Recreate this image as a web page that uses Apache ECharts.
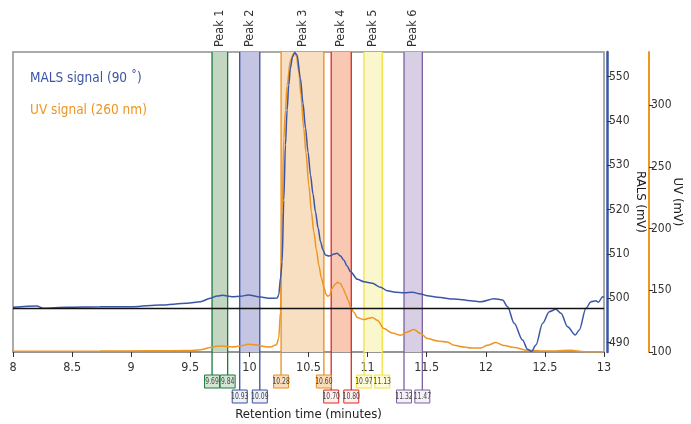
<!DOCTYPE html>
<html><head><meta charset="utf-8">
<script src="https://cdn.jsdelivr.net/npm/echarts@6/dist/echarts.min.js"></script>
<style>html,body{margin:0;padding:0;background:#fff}#c{width:691px;height:424px}</style>
</head><body><div id="c"></div>
<script>
const FONT = "'Liberation Sans Narrow','DejaVu Sans Condensed',sans-serif";

// Retention time (minutes) and MALS (RALS, mV) signal
const malsTime = [8.000,8.201,8.257,8.455,8.737,9.017,9.246,9.472,9.585,9.669,9.726,9.771,9.856,9.924,9.992,10.093,10.178,10.235,10.248,10.263,10.277,10.291,10.305,10.319,10.333,10.347,10.364,10.384,10.403,10.432,10.453,10.475,10.496,10.517,10.538,10.559,10.581,10.602,10.623,10.644,10.672,10.691,10.714,10.743,10.771,10.799,10.826,10.856,10.913,10.969,11.040,11.110,11.167,11.237,11.308,11.379,11.449,11.506,11.591,11.731,11.873,11.958,12.070,12.142,12.184,12.240,12.311,12.353,12.387,12.424,12.481,12.537,12.593,12.636,12.692,12.757,12.791,12.847,12.890,12.932,12.952,12.989,13.000];
const malsValue = [497.97,498.27,497.75,497.97,498.09,498.11,498.49,498.87,499.23,500.00,500.52,500.68,500.36,500.47,500.74,500.29,500.00,500.07,500.74,504.57,508.18,522.14,534.53,542.41,548.04,551.87,554.35,555.41,554.80,549.55,543.99,538.36,532.95,527.77,523.49,519.50,515.83,512.75,510.88,509.75,509.53,509.64,509.98,510.14,509.53,508.63,507.27,505.99,504.28,503.74,503.38,502.48,501.71,501.35,501.26,501.35,500.97,500.59,500.23,499.84,499.46,499.23,499.91,499.62,498.11,494.37,490.61,488.51,488.00,489.48,494.37,496.98,497.52,496.62,493.60,491.73,492.86,497.75,499.23,499.46,499.10,500.36,500.23];

// Retention time (minutes) and UV (mV) signal
const uvTime = [8.000,8.737,9.161,9.489,9.585,9.669,9.720,9.771,9.856,9.924,9.992,10.051,10.110,10.178,10.229,10.248,10.263,10.277,10.291,10.305,10.319,10.347,10.375,10.386,10.398,10.418,10.436,10.460,10.479,10.503,10.525,10.545,10.568,10.587,10.610,10.630,10.648,10.664,10.678,10.701,10.720,10.746,10.771,10.792,10.814,10.835,10.856,10.884,10.913,10.969,11.008,11.040,11.082,11.138,11.209,11.280,11.336,11.392,11.449,11.506,11.591,11.675,11.731,11.816,11.873,11.958,12.014,12.085,12.155,12.240,12.353,12.523,12.720,12.833,13.000];
const uvValue = [100.57,100.73,100.97,101.22,101.78,103.57,104.62,104.78,104.05,104.86,106.24,105.83,104.62,104.05,105.83,111.10,132.41,213.45,273.18,295.87,316.13,336.39,341.82,342.22,339.63,326.90,308.02,281.04,261.02,235.09,213.21,197.24,182.41,170.26,159.72,152.67,146.76,145.14,145.95,151.62,154.46,156.48,155.43,151.62,146.76,141.90,136.47,132.17,127.88,126.26,127.31,127.88,125.69,118.96,115.40,113.53,116.21,118.15,114.91,110.86,108.91,108.10,105.43,104.05,103.24,103.24,105.43,107.62,105.19,103.57,101.38,100.81,101.38,100.16,100.16];

const xTicks = [8,8.5,9,9.5,10,10.5,11,11.5,12,12.5,13];
const ralsTicks = [490,500,510,520,530,540,550];
const uvTicks = [100,150,200,250,300];
const baselineRALS = 497.75;

const peakNames = ['Peak 1','Peak 2','Peak 3','Peak 4','Peak 5','Peak 6'];
const peakStart = [9.684,9.918,10.268,10.692,10.969,11.308];
const peakEnd   = [9.816,10.088,10.630,10.862,11.124,11.463];
const peakStartLabels = ['9.69','10.93','10.28','10.70','10.97','11.32'];
const peakEndLabels   = ['9.84','10.09','10.60','10.80','11.13','11.47'];
const peakFill = ['#c3d6c2','#c3c5e3','#f8dfc2','#f9c8b3','#fbf7cc','#d8cfe4'];
const peakBox  = ['#d6e6d5','#eef0fa','#f9dcbc','#fdf0ee','#fdfbd9','#f4f0f8'];
const peakEdge = ['#1b7a3c','#3c4fa3','#ea8e1c','#e8231f','#f1e23e','#7c60a2'];

const BLUE = '#3b56a6', ORANGE = '#ee9522';

const chart = echarts.init(document.getElementById('c'), null, {renderer:'canvas'});
chart.setOption({
  animation:false,
  backgroundColor:'#fff',
  grid:{left:13,right:87,top:52,bottom:72,show:true,borderColor:'#8f8f8f',borderWidth:1.5,backgroundColor:'transparent',
    outerBoundsMode:'none',containLabel:false},
  xAxis:{type:'value',min:8,max:13,interval:0.5,
    axisLine:{lineStyle:{color:'#8f8f8f',width:1.5}},
    axisTick:{show:true,length:5,inside:false,lineStyle:{color:'#333',width:1}},
    axisLabel:{color:'#333',fontSize:12.5,fontFamily:FONT,margin:9,formatter:v=>String(v)},
    splitLine:{show:false},
    name:'Retention time (minutes)',nameLocation:'middle',nameGap:56,nameMoveOverlap:false,
    nameTextStyle:{color:'#222',fontSize:13,fontFamily:FONT}},
  yAxis:[
    {type:'value',position:'right',offset:3,min:487.9,max:555.5,
      axisLine:{show:true,lineStyle:{color:BLUE,width:2.5}},
      axisTick:{show:true,length:4,customValues:ralsTicks,lineStyle:{color:'#333'}},
      axisLabel:{show:true,customValues:ralsTicks,color:'#333',fontSize:12,fontFamily:FONT,margin:2},
      splitLine:{show:false},
      name:'RALS (mV)',nameLocation:'middle',nameRotate:-90,nameGap:27,nameMoveOverlap:false,
      nameTextStyle:{color:'#222',fontSize:13,fontFamily:FONT}},
    {type:'value',position:'right',offset:45,min:100,max:343,interval:50,
      axisLine:{show:true,lineStyle:{color:ORANGE,width:2}},
      axisTick:{show:true,length:4,customValues:uvTicks,lineStyle:{color:'#333'}},
      axisLabel:{show:true,customValues:uvTicks,color:'#333',fontSize:12,fontFamily:FONT,margin:2},
      splitLine:{show:false},
      name:'UV (mV)',nameLocation:'middle',nameRotate:-90,nameGap:22,nameMoveOverlap:false,
      nameTextStyle:{color:'#222',fontSize:13,fontFamily:FONT}}
  ],
  series:[
    {type:'line',name:'bands',data:[],z:1,silent:true,
      markArea:{silent:true,data:peakStart.map((s,i)=>[{xAxis:s,itemStyle:{color:peakFill[i],opacity:1}},{xAxis:peakEnd[i]}])}},
    {type:'line',name:'UV',yAxisIndex:1,z:3,showSymbol:false,smooth:0.3,smoothMonotone:'x',
      data:uvTime.map((t,i)=>[t,uvValue[i]]),lineStyle:{color:ORANGE,width:1.5},itemStyle:{color:ORANGE}},
    {type:'line',name:'MALS',yAxisIndex:0,z:4,showSymbol:false,smooth:0.3,smoothMonotone:'x',
      data:malsTime.map((t,i)=>[t,malsValue[i]]),lineStyle:{color:BLUE,width:1.5},itemStyle:{color:BLUE},
      markLine:{silent:true,symbol:'none',label:{show:false},lineStyle:{color:'#111',width:1.3,type:'solid'},
        data:[{yAxis:baselineRALS}]}}
  ]
});

function buildGraphics(){
  const g = [];
  const top = chart.convertToPixel({yAxisIndex:0}, 555.5);
  g.push({type:'text',left:30,top:71,z:10,style:{text:'MALS signal (90 ˚)',fill:BLUE,font:'13.5px '+FONT}});
  g.push({type:'text',left:30,top:103,z:10,style:{text:'UV signal (260 nm)',fill:ORANGE,font:'13.5px '+FONT}});
  peakNames.forEach((name,i)=>{
    const xs = chart.convertToPixel({xAxisIndex:0}, peakStart[i]);
    const xe = chart.convertToPixel({xAxisIndex:0}, peakEnd[i]);
    const xc = (xs+xe)/2;
    g.push({type:'text',x:xc,y:top-5,rotation:Math.PI/2,z:10,
      style:{text:name,fill:'#333',font:'12.5px '+FONT,textAlign:'left',textVerticalAlign:'middle',align:'left',verticalAlign:'middle'}});
    const row = i%2;
    const boxTop = row ? 390 : 375;
    [[xs,peakStartLabels[i]],[xe,peakEndLabels[i]]].forEach(([px,lab])=>{
      g.push({type:'line',z:2,shape:{x1:px,y1:top,x2:px,y2:boxTop},style:{stroke:peakEdge[i],lineWidth:1.3}});
      g.push({type:'rect',z:10,shape:{x:px-7.5,y:boxTop,width:15,height:13},
        style:{fill:peakBox[i],stroke:peakEdge[i],lineWidth:1}});
      g.push({type:'text',x:px,y:boxTop+6.8,z:11,scaleX:0.75,
        style:{text:lab,fill:'#444',font:'9px '+FONT,textAlign:'center',textVerticalAlign:'middle',align:'center',verticalAlign:'middle'}});
    });
  });
  chart.setOption({graphic:g});
}
buildGraphics();
</script>
</body></html>
